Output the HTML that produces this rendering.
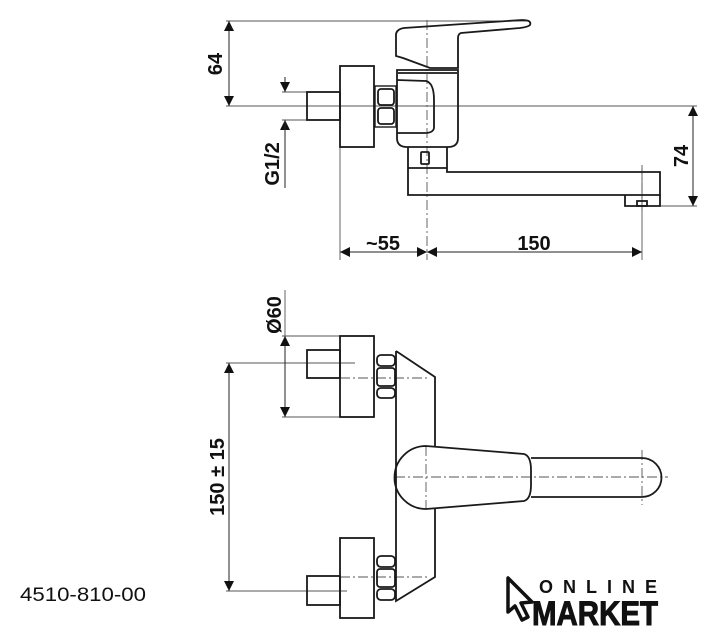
<!DOCTYPE html>
<html><head><meta charset="utf-8"><style>
html,body{margin:0;padding:0;background:#fff;}
svg{display:block;}
text{font-family:"Liberation Sans",Arial,sans-serif;fill:#111;}
</style></head><body>
<svg width="719" height="640" viewBox="0 0 719 640" xmlns="http://www.w3.org/2000/svg">
<defs>
<marker id="a" viewBox="0 0 10 10" refX="10" refY="5" markerWidth="10" markerHeight="15" markerUnits="userSpaceOnUse" orient="auto-start-reverse"><path d="M0,0 L10,5 L0,10 z" fill="#111"/></marker>
</defs>
<g fill="none" stroke="#1a1a1a" stroke-width="1.8">
<!-- ===== TOP VIEW ===== -->
<g stroke-width="0.9" stroke="#555">
<line x1="226" y1="21" x2="530" y2="21"/>
<line x1="226" y1="106" x2="697" y2="106"/>
<line x1="282" y1="92" x2="307" y2="92"/>
<line x1="282" y1="120" x2="307" y2="120"/>
<line x1="340" y1="147" x2="340" y2="260"/>
<line x1="642" y1="168" x2="642" y2="260"/>
<line x1="660" y1="206" x2="697" y2="206"/>
<line x1="427" y1="20" x2="427" y2="260" stroke-dasharray="10,3,2,3"/>
<line x1="642" y1="165" x2="642" y2="210" stroke-dasharray="10,3,2,3"/>
</g>
<g stroke-width="1" stroke="#222">
<line x1="229" y1="21" x2="229" y2="106" marker-start="url(#a)" marker-end="url(#a)"/>
<line x1="285" y1="77" x2="285" y2="92" marker-end="url(#a)"/>
<line x1="285" y1="135" x2="285" y2="120" marker-end="url(#a)"/>
<line x1="285" y1="120" x2="285" y2="188"/>
<line x1="693" y1="106" x2="693" y2="206" marker-start="url(#a)" marker-end="url(#a)"/>
<line x1="340" y1="252" x2="427" y2="252" marker-start="url(#a)" marker-end="url(#a)"/>
<line x1="427" y1="252" x2="642" y2="252" marker-start="url(#a)" marker-end="url(#a)"/>
</g>
<rect x="307" y="92" width="33" height="28"/>
<rect x="340" y="66" width="34" height="81"/>
<rect x="375" y="86" width="21" height="41" stroke-width="1.4"/>
<rect x="378" y="89" width="16" height="16" rx="3"/>
<rect x="378" y="108" width="16" height="16" rx="3"/>
<path d="M396,56 L396,34 Q397,29 404,28 L522,20 Q532,20 530,25 Q528,27 520,28 L461,33 Q458,34 458,38 L458,68 L430,68 L403,58 Z"/>
<path d="M397,70 L458,70 L458,138 Q458,147 448,147 L407,147 Q397,147 397,138 Z"/>
<line x1="398" y1="73" x2="457" y2="73"/>
<path d="M397,80 L426,81 Q434,83 434,100 L434,128 Q433,133 425,133 L397,133"/>
<path d="M408,147 L408,195 L660,195 L660,172 L447,172 L447,147"/>
<line x1="408" y1="168" x2="447" y2="168"/>
<rect x="421" y="152" width="8" height="12" rx="1"/>
<path d="M625,195 L625,206 L660,206 L660,195"/>
<rect x="637" y="201" width="10" height="5"/>

<!-- ===== BOTTOM VIEW ===== -->
<g stroke-width="0.9" stroke="#555">
<line x1="282" y1="336" x2="374" y2="336"/>
<line x1="282" y1="417" x2="374" y2="417"/>
<line x1="226" y1="363" x2="355" y2="363"/>
<line x1="226" y1="591" x2="347" y2="591"/>
<line x1="285" y1="290" x2="285" y2="336"/>
<g stroke-dasharray="10,3,2,3">
<line x1="340" y1="378" x2="428" y2="378"/>
<line x1="340" y1="577" x2="428" y2="577"/>
<line x1="395" y1="477" x2="668" y2="477"/>
<line x1="426" y1="446" x2="426" y2="509"/>
<line x1="642" y1="450" x2="642" y2="505"/>
</g>
</g>
<g stroke-width="1" stroke="#222">
<line x1="285" y1="336" x2="285" y2="417" marker-start="url(#a)" marker-end="url(#a)"/>
<line x1="229" y1="363" x2="229" y2="591" marker-start="url(#a)" marker-end="url(#a)"/>
</g>
<rect x="307" y="350" width="33" height="28"/>
<rect x="340" y="336" width="34" height="81"/>
<rect x="377" y="355" width="18" height="11" rx="4"/>
<rect x="377" y="368" width="18" height="18" rx="3"/>
<rect x="377" y="388" width="18" height="10" rx="4"/>
<rect x="307" y="576" width="33" height="29"/>
<rect x="340" y="538" width="34" height="80"/>
<rect x="377" y="556" width="18" height="11" rx="4"/>
<rect x="377" y="569" width="18" height="18" rx="3"/>
<rect x="377" y="589" width="18" height="11" rx="4"/>
<path d="M396,351 L396,601 L435,577 L435,509 M435,446 L435,377 L396,351"/>
<path d="M426,446 L524,454 Q531,456 531,470 L531,485 Q531,499 524,501 L426,509 A31,31 0 0 1 426,446 Z"/>
<path d="M531,458 L642,458 A19.5,19.5 0 0 1 642,497 L531,497"/>
</g>

<g font-size="20" font-weight="bold">
<text transform="translate(222,64) rotate(-90)" text-anchor="middle">64</text>
<text transform="translate(279,164) rotate(-90)" text-anchor="middle">G1/2</text>
<text transform="translate(688,156) rotate(-90)" text-anchor="middle">74</text>
<text x="383" y="250" text-anchor="middle">~55</text>
<text x="534" y="250" text-anchor="middle">150</text>
<text transform="translate(281,315) rotate(-90)" text-anchor="middle">Ø60</text>
<text transform="translate(224,477) rotate(-90)" text-anchor="middle">150 ± 15</text>
</g>
<text x="20" y="601" font-size="19" textLength="126" lengthAdjust="spacingAndGlyphs">4510-810-00</text>
<path d="M508,578 L508,612 L515,606 L522,620 L528,617 L521,603 L532,602 Z" fill="none" stroke="#111" stroke-width="3.5" stroke-linejoin="round"/>
<text x="539" y="593" font-size="18" font-weight="bold" textLength="118" lengthAdjust="spacing">ONLINE</text>
<text x="532" y="625" font-size="34" font-weight="bold" stroke="#111" stroke-width="1" textLength="126" lengthAdjust="spacingAndGlyphs">MARKET</text>
</svg>
</body></html>
